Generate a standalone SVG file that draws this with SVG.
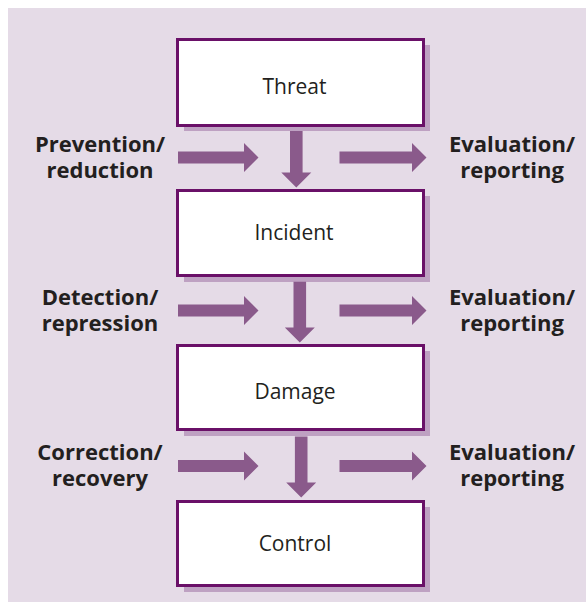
<svg xmlns="http://www.w3.org/2000/svg" width="586" height="602" viewBox="0 0 586 602">
<style>
.bg{fill:#e5dbe7}
.sh{fill:#bea1c2}
.box{fill:#ffffff;stroke:#6a1068;stroke-width:3}
.arr{fill:#8a5a8b}
.nt{font-family:"Open Sans","Liberation Sans",sans-serif;font-size:21px;fill:#231f20;text-anchor:middle}
.lb{font-family:"Open Sans","Liberation Sans",sans-serif;font-size:22px;font-weight:bold;fill:#231f20;text-anchor:middle}
</style>
<rect class="bg" x="8" y="8" width="578" height="594"/>
<g id="threat">
<rect class="sh" x="184" y="45" width="246" height="86"/>
<rect class="box" x="177.5" y="39.5" width="246" height="86"/>
<text class="nt" x="294.5" y="94">Threat</text>
</g>
<g id="incident">
<rect class="sh" x="184" y="196" width="246" height="86"/>
<rect class="box" x="177.5" y="190.5" width="246" height="85"/>
<text class="nt" x="294" y="239.5">Incident</text>
</g>
<g id="damage">
<rect class="sh" x="184" y="351" width="246" height="85"/>
<rect class="box" x="177.5" y="345.5" width="246" height="84"/>
<text class="nt" x="295" y="399">Damage</text>
</g>
<g id="control">
<rect class="sh" x="184" y="507" width="246" height="85"/>
<rect class="box" x="177.5" y="501.5" width="246" height="84"/>
<text class="nt" x="295" y="551">Control</text>
</g>
<g id="labels">
<text class="lb" x="100" y="151.5">Prevention/</text>
<text class="lb" x="100" y="177.5">reduction</text>
<text class="lb" x="512" y="151.5">Evaluation/</text>
<text class="lb" x="512" y="177.5">reporting</text>
<text class="lb" x="100" y="304.5">Detection/</text>
<text class="lb" x="100" y="331">repression</text>
<text class="lb" x="512" y="304.5">Evaluation/</text>
<text class="lb" x="512" y="331">reporting</text>
<text class="lb" x="100" y="459.5">Correction/</text>
<text class="lb" x="100" y="486">recovery</text>
<text class="lb" x="512" y="459.5">Evaluation/</text>
<text class="lb" x="512" y="486">reporting</text>
</g>
<g id="connectors">
<polygon class="arr" points="178,151.5 244,151.5 244,143 258.5,157.5 244,172 244,163.5 178,163.5"/>
<polygon class="arr" points="339.5,151.5 412,151.5 412,143 426.5,157.5 412,172 412,163.5 339.5,163.5"/>
<polygon class="arr" points="178,304.5 244,304.5 244,296 258.5,310.5 244,325 244,316.5 178,316.5"/>
<polygon class="arr" points="339.5,304.5 412,304.5 412,296 426.5,310.5 412,325 412,316.5 339.5,316.5"/>
<polygon class="arr" points="178,460 244,460 244,451.5 258.5,466 244,480.5 244,472 178,472"/>
<polygon class="arr" points="339.5,460 412,460 412,451.5 426.5,466 412,480.5 412,472 339.5,472"/>
<polygon class="arr" points="290,131 302.6,131 302.6,172.5 311.3,172.5 296.3,187.5 281.3,172.5 290,172.5"/>
<polygon class="arr" points="293.5,281.7 306.1,281.7 306.1,327.5 314.8,327.5 299.8,342.5 284.8,327.5 293.5,327.5"/>
<polygon class="arr" points="294.9,436.5 307.5,436.5 307.5,482.5 316.2,482.5 301.2,497.5 286.2,482.5 294.9,482.5"/>
</g>
</svg>
